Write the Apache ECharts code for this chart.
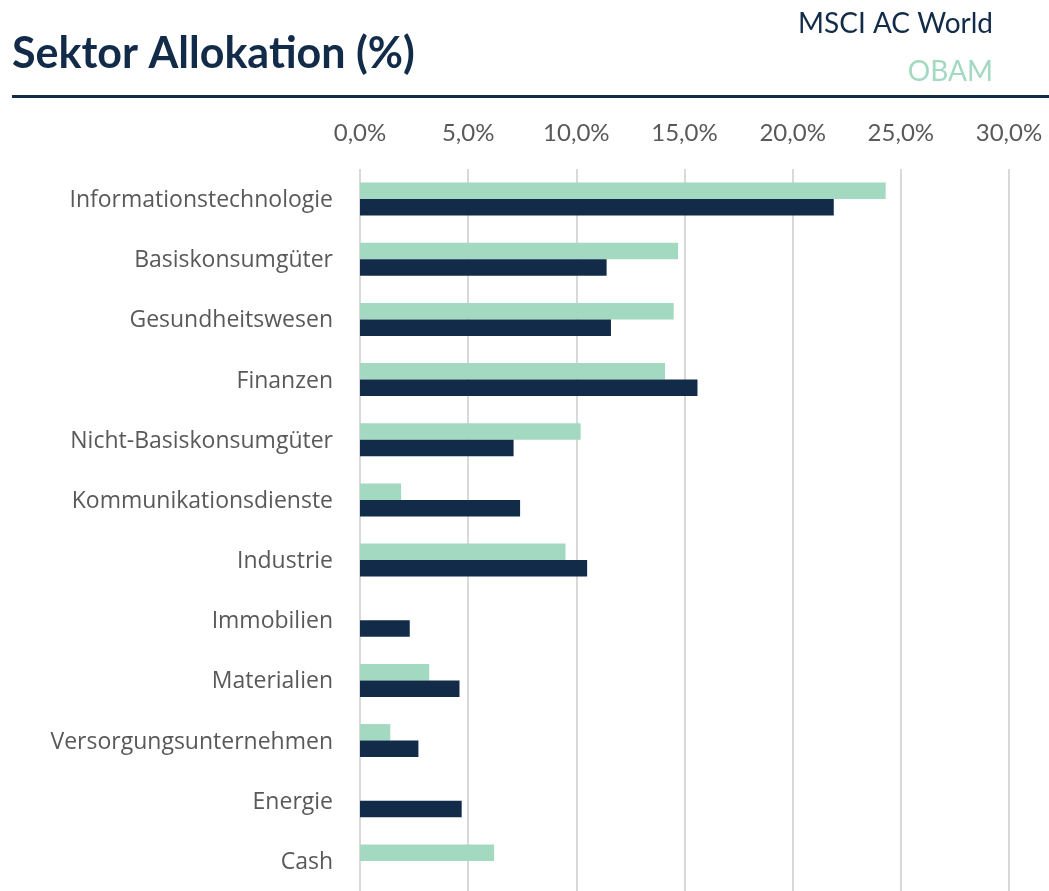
<!DOCTYPE html>
<html>
<head>
<meta charset="utf-8">
<script src="https://cdn.jsdelivr.net/npm/echarts@6/dist/echarts.min.js"></script>
<style>
  html, body { margin: 0; padding: 0; background: #fff; }
  #chart { width: 1049px; height: 891px; }
</style>
</head>
<body>
<div id="chart"></div>
<script>
// Sector names, top to bottom
const sectors = [
  'Informationstechnologie', 'Basiskonsumgüter', 'Gesundheitswesen', 'Finanzen',
  'Nicht-Basiskonsumgüter', 'Kommunikationsdienste', 'Industrie', 'Immobilien',
  'Materialien', 'Versorgungsunternehmen', 'Energie', 'Cash'
];
// Weights in percent
const obam = [24.3, 14.7, 14.5, 14.1, 10.2, 1.9, 9.5, 0, 3.2, 1.4, 0, 6.2];
const msciAcWorld = [21.9, 11.4, 11.6, 15.6, 7.1, 7.4, 10.5, 2.3, 4.6, 2.7, 4.7, 0];
const axisMax = 30;
const axisStep = 5;

const NAVY = '#122b49';
const MINT = '#a3d9c0';
const GREY_TEXT = '#595959';

const chart = echarts.init(document.getElementById('chart'));

chart.setOption({
  animation: false,
  grid: { left: 360, right: 40, top: 169, height: 727 },
  xAxis: {
    type: 'value',
    position: 'top',
    min: 0,
    max: axisMax,
    interval: axisStep,
    axisLine: { show: false },
    axisTick: { show: false },
    splitLine: { lineStyle: { color: '#d9d9d9', width: 2 } },
    axisLabel: {
      margin: 24,
      color: GREY_TEXT,
      fontFamily: 'Lato',
      fontSize: 24,
      formatter: v => v.toFixed(1).replace('.', ',') + '%'
    }
  },
  yAxis: {
    type: 'category',
    inverse: true,
    data: sectors,
    axisLine: { show: false },
    axisTick: { show: false },
    axisLabel: {
      margin: 27,
      formatter: v => '{s|' + v + '}',
      rich: {
        s: {
          color: GREY_TEXT,
          fontFamily: 'Open Sans',
          fontSize: 23,
          padding: [3, 0, 0, 0]
        }
      }
    }
  },
  series: [
    {
      name: 'OBAM',
      type: 'bar',
      data: obam,
      barWidth: 16.5,
      barGap: '0%',
      itemStyle: { color: MINT }
    },
    {
      name: 'MSCI AC World',
      type: 'bar',
      data: msciAcWorld,
      barWidth: 16.5,
      itemStyle: { color: NAVY }
    }
  ],
  graphic: [
    {
      type: 'text', left: 12, top: 33,
      style: { text: 'Sektor Allokation (%)', fill: NAVY, font: 'bold 43px Lato' }
    },
    {
      type: 'text', right: 56, top: 10,
      style: { text: 'MSCI AC World', fill: NAVY, font: '28px Lato' }
    },
    {
      type: 'text', right: 56, top: 58,
      style: { text: 'OBAM', fill: MINT, font: '28px Lato' }
    },
    {
      type: 'rect',
      shape: { x: 12, y: 95, width: 1037, height: 3 },
      style: { fill: NAVY }
    }
  ]
});
</script>
</body>
</html>
